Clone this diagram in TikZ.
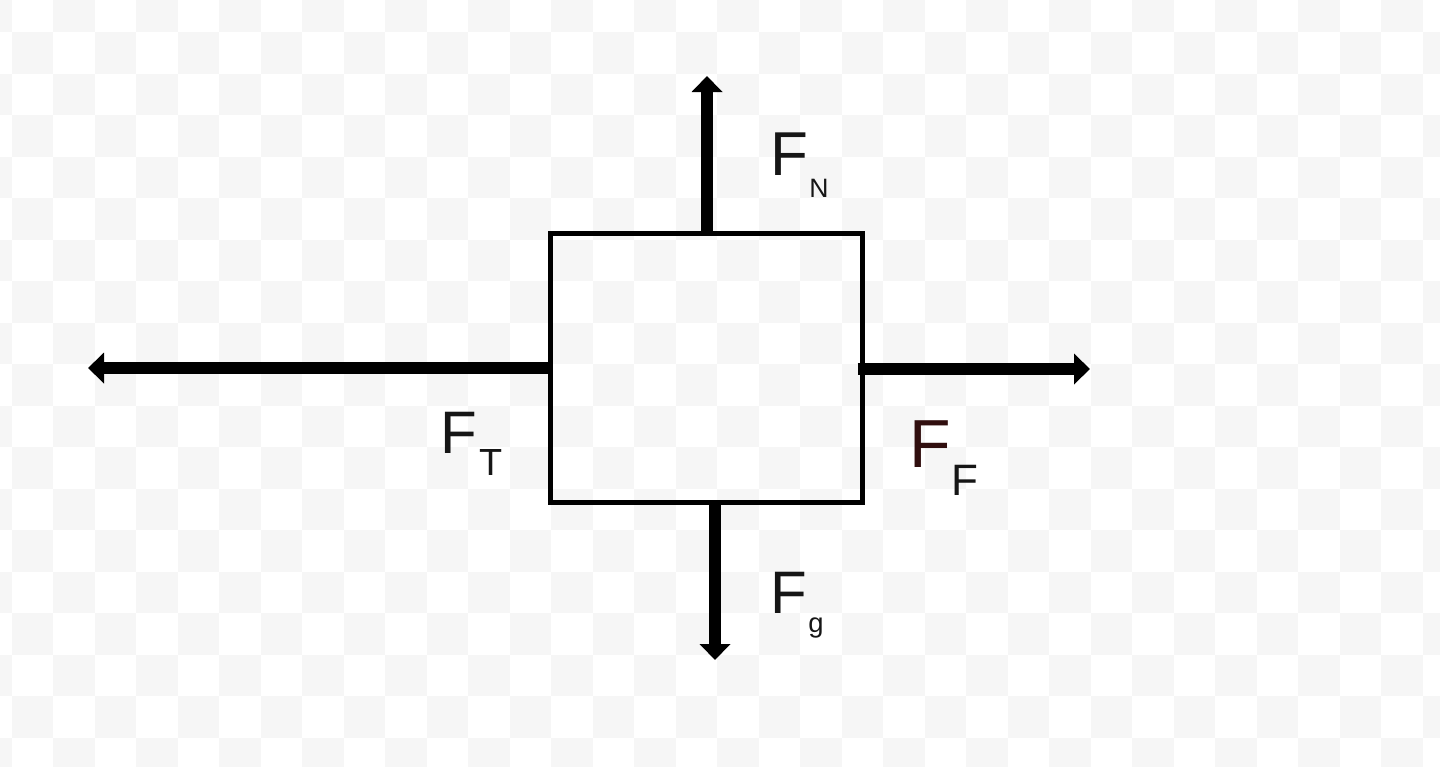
\documentclass[tikz,border=0pt]{standalone}
\usepackage{fontspec}
\setmainfont{Liberation Sans}
\usetikzlibrary{arrows.meta}
\definecolor{checkgray}{RGB}{246,246,246}
\definecolor{inkc}{RGB}{22,22,22}
\definecolor{ffred}{RGB}{48,14,14}
\tikzset{
  force/.style={line width=6pt, draw=black, -{Triangle[width=15pt,length=8pt]}},
  body/.style={draw=black, line width=2.5pt, minimum width=156pt, minimum height=134.5pt, inner sep=0pt},
  lbl/.style={anchor=base west, inner sep=0pt, text=inkc},
}
\begin{document}
\begin{tikzpicture}[x=0.5pt,y=-0.5pt]
\useasboundingbox (0,0) rectangle (1440,766);
\fill[white] (0,0) rectangle (1440,766);
% faint checkerboard background
\begin{scope}
\clip (0,0) rectangle (1440,766);
\foreach \i in {0,...,35}{
  \foreach \j in {0,...,19}{
    \pgfmathtruncatemacro{\cpar}{mod(\i+\j,2)}
    \ifnum\cpar=0
      \fill[checkgray] ({-30+41.5*\i},{-9.5+41.5*\j}) rectangle ++(41.5,41.5);
    \fi
  }
}
\end{scope}
% body
\node[body] (box) at (706,367.5) {};
% tips
\coordinate (tipN) at (707,76);
\coordinate (tipG) at (715,660);
\coordinate (tipT) at (88,368);
\coordinate (tipF) at (1090,369);
\draw[force] (tipN |- box.north) -- (tipN);
\draw[force] (tipG |- box.south) -- (tipG);
\draw[force] (box.west |- tipT) -- (tipT);
\draw[force] ([xshift=-3.5pt]box.east |- tipF) -- (tipF);
% labels
\node[lbl, font=\fontsize{31}{31}\selectfont] (FN) at (770,175) {F};
\node[lbl, font=\fontsize{13.3}{13.3}\selectfont] (sN) at (809,197) {N};
\node[lbl, font=\fontsize{30}{30}\selectfont] (FT) at (440,453) {F};
\node[lbl, font=\fontsize{18.9}{18.9}\selectfont] (sT) at (479,475) {T};
\node[lbl, text=ffred, font=\fontsize{34}{34}\selectfont] (FF) at (909,467) {F};
\node[lbl, font=\fontsize{22}{22}\selectfont] (sF) at (951,495) {F};
\node[lbl, font=\fontsize{30}{30}\selectfont] (Fg) at (770,613) {F};
\node[lbl, font=\fontsize{13.7}{13.7}\selectfont] (sg) at (808,632) {g};
\end{tikzpicture}
\end{document}
